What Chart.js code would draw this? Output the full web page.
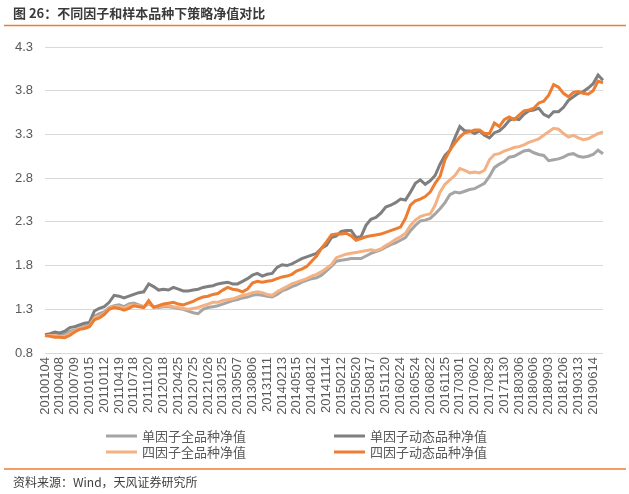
<!DOCTYPE html>
<html>
<head>
<meta charset="utf-8">
<script src="https://cdn.jsdelivr.net/npm/chart.js@4.4.0/dist/chart.umd.min.js"></script>
<style>
  html, body { margin: 0; padding: 0; background: #fff; }
  #wrap { width: 629px; height: 494px; }
</style>
</head>
<body>
<div id="wrap"><canvas id="c" width="629" height="494"></canvas></div>
<script>
// date labels shown on the x axis, one every 3 points
const tickDates = ["20100104", "20100408", "20100709", "20101015", "20110112", "20110419", "20110718", "20111020",
  "20120118", "20120425", "20120725", "20121026", "20130125", "20130507", "20130806", "20131111",
  "20140213", "20140515", "20140812", "20141114", "20150212", "20150520", "20150817", "20151120",
  "20160224", "20160524", "20160822", "20161125", "20170301", "20170602", "20170829", "20171130",
  "20180306", "20180606", "20180903", "20181206", "20190313", "20190614"];
const perTick = 3;

const yTicks = { min: 0.8, max: 4.3, step: 0.5 };

// 单因子全品种净值
const singleAll = [1.00, 1.01, 1.02, 1.01, 1.02, 1.05, 1.06, 1.08, 1.10, 1.12, 1.22, 1.25, 1.27, 1.32, 1.34, 1.35, 1.33, 1.36, 1.37, 1.35, 1.33, 1.36, 1.33, 1.32, 1.33, 1.33, 1.32, 1.31, 1.30, 1.28,
  1.26, 1.25, 1.30, 1.32, 1.33, 1.34, 1.36, 1.38, 1.40, 1.41, 1.43, 1.44, 1.46, 1.47, 1.46, 1.45, 1.44, 1.47, 1.51, 1.53, 1.56, 1.58, 1.61, 1.63, 1.65, 1.66, 1.69, 1.74, 1.79, 1.85,
  1.86, 1.87, 1.88, 1.88, 1.88, 1.91, 1.94, 1.96, 1.98, 2.01, 2.04, 2.06, 2.09, 2.12, 2.20, 2.26, 2.31, 2.32, 2.34, 2.39, 2.45, 2.52, 2.61, 2.64, 2.63, 2.65, 2.67, 2.68, 2.71, 2.74,
  2.82, 2.92, 2.96, 2.99, 3.04, 3.05, 3.08, 3.11, 3.12, 3.09, 3.07, 3.06, 3.00, 3.01, 3.02, 3.04, 3.07, 3.08, 3.05, 3.04, 3.05, 3.07, 3.12, 3.08];

// 单因子动态品种净值
const singleDyn = [1.01, 1.02, 1.04, 1.03, 1.05, 1.09, 1.10, 1.12, 1.14, 1.15, 1.28, 1.31, 1.33, 1.38, 1.46, 1.45, 1.43, 1.45, 1.47, 1.49, 1.50, 1.59, 1.56, 1.52, 1.53, 1.52, 1.55, 1.53, 1.51, 1.51,
  1.52, 1.53, 1.55, 1.56, 1.57, 1.59, 1.60, 1.61, 1.59, 1.59, 1.62, 1.65, 1.69, 1.71, 1.68, 1.70, 1.71, 1.78, 1.81, 1.80, 1.82, 1.85, 1.88, 1.90, 1.92, 1.94, 2.00, 2.03, 2.12, 2.14,
  2.19, 2.20, 2.20, 2.12, 2.13, 2.26, 2.33, 2.35, 2.40, 2.47, 2.49, 2.52, 2.56, 2.55, 2.64, 2.74, 2.78, 2.73, 2.77, 2.83, 2.96, 3.06, 3.12, 3.26, 3.39, 3.34, 3.34, 3.31, 3.34, 3.29,
  3.26, 3.32, 3.34, 3.39, 3.46, 3.48, 3.47, 3.53, 3.57, 3.58, 3.60, 3.53, 3.50, 3.56, 3.56, 3.61, 3.69, 3.73, 3.77, 3.79, 3.83, 3.88, 3.98, 3.92];

// 四因子全品种净值
const fourAll = [1.00, 1.00, 1.00, 0.99, 0.99, 1.02, 1.05, 1.08, 1.09, 1.11, 1.20, 1.22, 1.25, 1.31, 1.33, 1.33, 1.31, 1.34, 1.35, 1.34, 1.33, 1.37, 1.33, 1.33, 1.34, 1.34, 1.33, 1.32, 1.31, 1.30,
  1.31, 1.32, 1.34, 1.36, 1.38, 1.38, 1.40, 1.41, 1.42, 1.44, 1.46, 1.47, 1.49, 1.50, 1.49, 1.47, 1.46, 1.50, 1.53, 1.56, 1.59, 1.61, 1.63, 1.65, 1.68, 1.70, 1.73, 1.77, 1.81, 1.89,
  1.91, 1.93, 1.94, 1.95, 1.96, 1.97, 1.98, 1.97, 1.99, 2.03, 2.06, 2.10, 2.13, 2.17, 2.26, 2.32, 2.36, 2.38, 2.39, 2.49, 2.64, 2.73, 2.78, 2.83, 2.91, 2.89, 2.86, 2.87, 2.86, 2.89,
  3.01, 3.07, 3.08, 3.11, 3.13, 3.15, 3.16, 3.18, 3.21, 3.23, 3.25, 3.29, 3.33, 3.37, 3.36, 3.31, 3.27, 3.29, 3.26, 3.24, 3.25, 3.28, 3.31, 3.33];

// 四因子动态品种净值
const fourDyn = [1.00, 0.99, 0.98, 0.98, 0.975, 1.00, 1.04, 1.07, 1.08, 1.10, 1.18, 1.20, 1.24, 1.30, 1.32, 1.31, 1.29, 1.31, 1.34, 1.33, 1.32, 1.40, 1.32, 1.34, 1.36, 1.37, 1.38, 1.36, 1.35, 1.37,
  1.39, 1.42, 1.44, 1.45, 1.47, 1.48, 1.52, 1.55, 1.53, 1.52, 1.50, 1.53, 1.60, 1.62, 1.61, 1.62, 1.63, 1.65, 1.67, 1.68, 1.70, 1.74, 1.76, 1.79, 1.85, 1.91, 2.00, 2.07, 2.15, 2.16,
  2.16, 2.17, 2.14, 2.09, 2.11, 2.13, 2.14, 2.15, 2.16, 2.18, 2.20, 2.22, 2.24, 2.34, 2.49, 2.54, 2.56, 2.59, 2.64, 2.74, 2.82, 3.01, 3.12, 3.20, 3.27, 3.32, 3.33, 3.35, 3.35, 3.31,
  3.31, 3.43, 3.39, 3.47, 3.50, 3.47, 3.52, 3.57, 3.58, 3.60, 3.66, 3.68, 3.75, 3.87, 3.84, 3.77, 3.73, 3.78, 3.79, 3.77, 3.76, 3.80, 3.91, 3.89];

const seriesNames = ["单因子全品种净值", "单因子动态品种净值", "四因子全品种净值", "四因子动态品种净值"];
const seriesColors = ["#A5A5A5", "#7F7F7F", "#F4B183", "#ED7D31"];

const title = "图 26：不同因子和样本品种下策略净值对比";
const source = "资料来源：Wind，天风证券研究所";

// category labels: a date every perTick points, blank in between
let labels = [];
for (let i = 0; i < singleAll.length; i++) {
  labels.push(i % perTick == 0 && tickDates[i / perTick] ? tickDates[i / perTick] : "");
}

const cjk = "'Noto Sans CJK SC', 'Liberation Sans', sans-serif";
Chart.defaults.font.family = "'Liberation Sans', Arial, sans-serif";
Chart.defaults.color = "#595959";

// title, orange rules, two-column legend and source line
const decor = {
  id: "decor",
  afterDraw(chart) {
    const ctx = chart.ctx;
    ctx.save();

    ctx.fillStyle = "#3a3a3a";
    ctx.textBaseline = "middle";
    ctx.textAlign = "left";
    ctx.font = "bold 13px " + cjk;
    ctx.fillText(title, 13, 13);

    ctx.strokeStyle = "#ED7D31";
    ctx.lineWidth = 1.5;
    ctx.beginPath();
    ctx.moveTo(4, 25.5); ctx.lineTo(626, 25.5);
    ctx.moveTo(4, 469); ctx.lineTo(626, 469);
    ctx.stroke();

    ctx.font = "12px " + cjk;
    ctx.fillStyle = "#404040";
    ctx.fillText(source, 13, 482);

    const cols = [106, 334], rows = [436, 452];
    ctx.font = "13px " + cjk;
    ctx.fillStyle = "#595959";
    chart.data.datasets.forEach((ds, i) => {
      let x = cols[i % 2], y = rows[Math.floor(i / 2)];
      ctx.strokeStyle = ds.borderColor;
      ctx.lineWidth = 3;
      ctx.beginPath();
      ctx.moveTo(x, y); ctx.lineTo(x + 31, y);
      ctx.stroke();
      ctx.fillText(ds.label, x + 36, y);
    });
    ctx.restore();
  }
};

const seriesData = [singleAll, singleDyn, fourAll, fourDyn];

new Chart(document.getElementById("c").getContext("2d"), {
  type: "line",
  data: {
    labels: labels,
    datasets: seriesData.map((d, i) => ({
      label: seriesNames[i],
      data: d,
      borderColor: seriesColors[i],
      backgroundColor: seriesColors[i],
      borderWidth: 3,
      pointRadius: 0,
      tension: 0,
      order: 3 - i
    }))
  },
  options: {
    responsive: false,
    animation: false,
    devicePixelRatio: 1,
    layout: { padding: { top: 47, right: 26, left: 0, bottom: 0 } },
    plugins: {
      legend: { display: false },
      tooltip: { enabled: false }
    },
    scales: {
      x: {
        grid: { display: false, drawTicks: false },
        border: { display: false },
        ticks: {
          autoSkip: false,
          minRotation: 90,
          maxRotation: 90,
          padding: 4,
          font: { size: 13 },
          color: "#595959"
        },
        afterFit(scale) { scale.height = 141; }
      },
      y: {
        min: yTicks.min,
        max: yTicks.max,
        grid: { color: "#d9d9d9", lineWidth: 1, drawTicks: false },
        border: { display: false },
        ticks: {
          stepSize: yTicks.step,
          padding: 12,
          font: { size: 13 },
          color: "#595959",
          callback: v => v.toFixed(1)
        },
        afterFit(scale) { scale.width = 45; }
      }
    }
  },
  plugins: [decor]
});
</script>
</body>
</html>
